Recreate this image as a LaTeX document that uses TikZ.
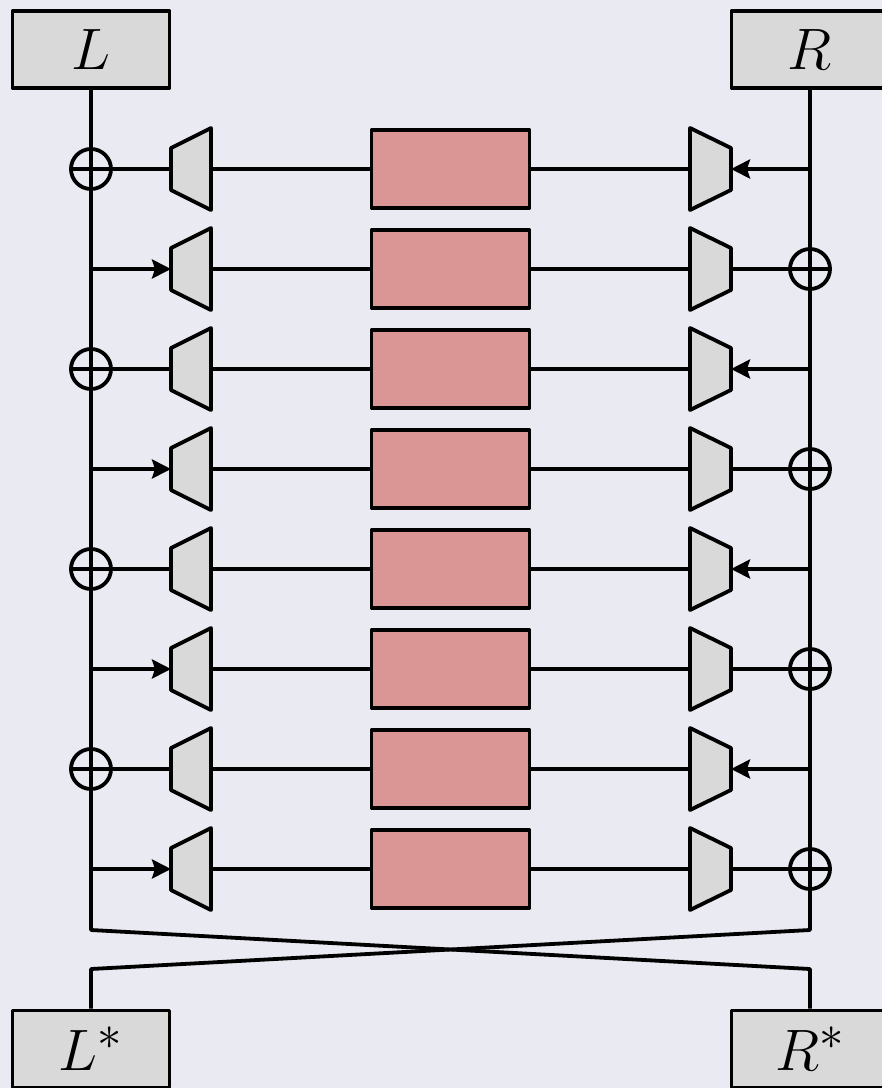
\documentclass[tikz,border=0pt]{standalone}
\usepackage{graphicx}
\usetikzlibrary{arrows.meta}
\definecolor{bg}{HTML}{EAEAF2}
\definecolor{boxgray}{HTML}{D9D9D9}
\definecolor{boxred}{HTML}{D99694}
\newcommand{\bigsym}[1]{\scalebox{2.35}{\Huge$#1$}}
\begin{document}
\begin{tikzpicture}[x=1pt,y=-1pt, line width=3.8pt, line join=round,
  iobox/.style={draw, fill=boxgray, minimum width=157pt, minimum height=77pt, inner sep=0pt},
  fbox/.style={draw, fill=boxred, minimum width=158pt, minimum height=78pt, inner sep=0pt},
  xorc/.style={draw, circle, minimum size=40pt, inner sep=0pt},
  trap/.style={draw, fill=boxgray},
  arr/.style={-{Stealth[length=19pt,width=19pt,inset=3pt]}}
]
\fill[bg] (0,0) rectangle (882,1088);
\useasboundingbox (0,0) rectangle (882,1088);

\node[iobox] (L) at (91,49.5) {\bigsym{L}};
\node[iobox] (R) at (810,49.5) {\bigsym{R}};
\node[iobox] (Ls) at (91,1049) {\bigsym{L^*}};
\node[iobox] (Rs) at (810,1049) {\bigsym{R^*}};

\foreach \i in {1,...,8} {
  \pgfmathsetmacro{\y}{69+100*\i}
  \node[fbox] (f\i) at (450.5,\y) {};
  \draw[trap] (171,\y-21) -- (211,\y-41) -- (211,\y+41) -- (171,\y+21) -- cycle;
  \draw[trap] (690,\y-41) -- (731,\y-21) -- (731,\y+21) -- (690,\y+41) -- cycle;
  \coordinate (tl\i) at (171,\y);
  \coordinate (tr\i) at (211,\y);
  \coordinate (ul\i) at (690,\y);
  \coordinate (ur\i) at (731,\y);
  \draw (tr\i) -- (f\i.west);
  \draw (f\i.east) -- (ul\i);
  \ifodd\i
    \node[xorc] (xl\i) at (91,\y) {};
    \draw (xl\i.west) -- (xl\i.east);
    \draw (xl\i.east) -- (tl\i);
    \coordinate (rj\i) at (810,\y);
    \draw[arr] (rj\i) -- (ur\i);
  \else
    \coordinate (lj\i) at (91,\y);
    \draw[arr] (lj\i) -- (tl\i);
    \node[xorc] (xr\i) at (810,\y) {};
    \draw (xr\i.west) -- (xr\i.east);
    \draw (ur\i) -- (xr\i.west);
  \fi
}

\coordinate (lb) at (91,930);
\coordinate (rb) at (810,930);
\coordinate (lc) at (91,969);
\coordinate (rc) at (810,969);
\draw (L.south) -- (lb) -- (rc) -- (Rs.north);
\draw (R.south) -- (rb) -- (lc) -- (Ls.north);
\end{tikzpicture}
\end{document}
